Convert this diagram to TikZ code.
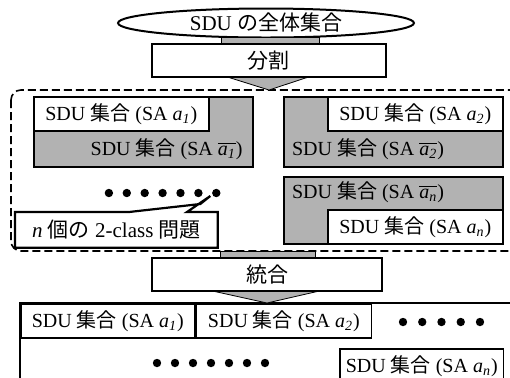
\documentclass[tikz,border=0pt]{standalone}
\usepackage{fontspec}
\setmainfont{Liberation Serif}
\newfontfamily\jp{Noto Sans CJK JP}
\usetikzlibrary{positioning}
\usetikzlibrary{shapes.geometric}
\usetikzlibrary{calc}

\newcommand{\saa}[1]{SA \textit{a}\textsubscript{\textit{#1}}}
\newcommand{\sab}[1]{SA $\overline{\mbox{\textit{a}\textsubscript{\textit{#1}}}}$}
\newcommand{\sdu}{SDU {\jp 集合}}

\begin{document}
\begin{tikzpicture}[x=0.5pt,y=-0.5pt,font=\fontsize{10}{12}\selectfont]
        \tikzset{
            shade/.style={fill=black!30},
            bar/.style={shade,draw,line width=0.4pt},
            stepbox/.style={draw,fill=white,line width=0.9pt,minimum height=14pt,font=\jp\fontsize{10.5}{12}\selectfont},
            outer/.style={shade,draw,line width=0.8pt,inner sep=0pt,minimum width=109.5pt,minimum height=35pt},
            setbox/.style={draw,fill=white,line width=0.8pt,minimum width=87.5pt,minimum height=17pt,inner sep=0pt},
            cell/.style={draw,line width=0.8pt,minimum height=17pt,inner sep=0pt},
            group/.style={draw,dashed,dash pattern=on 4pt off 2pt,line width=0.8pt,rounded corners=5pt}
        }
        \useasboundingbox (0,0) rectangle (510,377);

        % whole set and split step
        \node[ellipse,draw,fill=white,line width=1pt,minimum width=148pt,minimum height=14.5pt,inner sep=0pt,font=\fontsize{10.5}{12}\selectfont] (all) at (266,23) {SDU {\jp の全体集合}};
        \node[stepbox,minimum width=117pt,anchor=north] (split) at (269,43) {分割};
        \filldraw[bar] ([xshift=-24pt]split.north) rectangle ([xshift=25pt,yshift=3pt]split.north);

        % group of 2-class problems (runs off the right edge)
        \draw[group] (11,90) rectangle (540,251);
        \coordinate (grptop) at (267,90);
        \filldraw[bar] ([xshift=-20pt]split.south) -- ([xshift=19pt]split.south) -- (split.south |- grptop) -- cycle;

        \node[outer,anchor=north west] (g1) at (33,96) {};
        \node[setbox,anchor=north west] (w1) at (g1.north west) {\sdu\ (\saa{1})};
        \node[anchor=east] (n1) at ($(g1.south east)+(-4,-18)$) {\sdu\ (\sab{1})};

        \node[outer,anchor=north west] (g2) at (283,96) {};
        \node[setbox,anchor=north east,minimum height=17pt] (w2) at (g2.north east) {\sdu\ (\saa{2})};
        \node[anchor=west] (n2) at ($(g2.south west)+(2,-18)$) {\sdu\ (\sab{2})};

        \node[outer,anchor=north west,minimum height=33.5pt] (g3) at (283,176) {};
        \node[setbox,anchor=south east] (w3) at (g3.south east) {\sdu\ (\saa{n})};
        \node[anchor=west] (n3) at ($(g3.north west)+(2,16)$) {\sdu\ (\sab{n})};

        \foreach \i in {1,...,7}
            \fill (91+17.9*\i,193) coordinate (dot\i) circle (2.1pt);

        % callout
        \node[inner sep=0pt,minimum width=101pt,minimum height=17.5pt,anchor=north west] (prob) at (15,212) {};
        \draw[fill=white,line width=1.1pt,line join=miter]
            (prob.north west) -- ([xshift=57pt]prob.north west) -- ($(dot7)+(-16,11)$) -- ($(dot7)+(-6,3)$)
            -- ([xshift=86pt]prob.north west) -- (prob.north east) -- (prob.south east) -- (prob.south west) -- cycle;
        \node[inner sep=0pt,font=\fontsize{10.5}{12}\selectfont] at (prob) {\textit{n} {\jp 個の} 2-class {\jp 問題}};

        % merge step
        \node[stepbox,minimum width=115pt,minimum height=15pt,anchor=north] (merge) at (267,257) {統合};
        \filldraw[bar] ([xshift=-23.5pt]merge.north) rectangle ([xshift=24pt,yshift=3pt]merge.north);

        % merged sets
        \draw[line width=0.8pt] (20,380) -- (20,303) -- (515,303);
        \node[cell,minimum width=87pt,anchor=north west] (c1) at (20,303) {\sdu\ (\saa{1})};
        \node[cell,minimum width=87.5pt,anchor=north west] (c2) at (c1.north east) {\sdu\ (\saa{2})};
        \filldraw[bar] ([xshift=-26pt]merge.south) -- ([xshift=25pt]merge.south) -- (merge.south |- c1.north) -- cycle;
        \foreach \i in {0,...,4}
            \fill (403+19.25*\i,322) circle (2.1pt);
        \node[draw,line width=0.8pt,anchor=north west,minimum height=17pt,inner xsep=3pt] (cn) at (339,348) {\sdu\ (\saa{n})};
        \foreach \i in {0,...,6}
            \fill (157+18*\i,363) circle (2.1pt);
\end{tikzpicture}
\end{document}
